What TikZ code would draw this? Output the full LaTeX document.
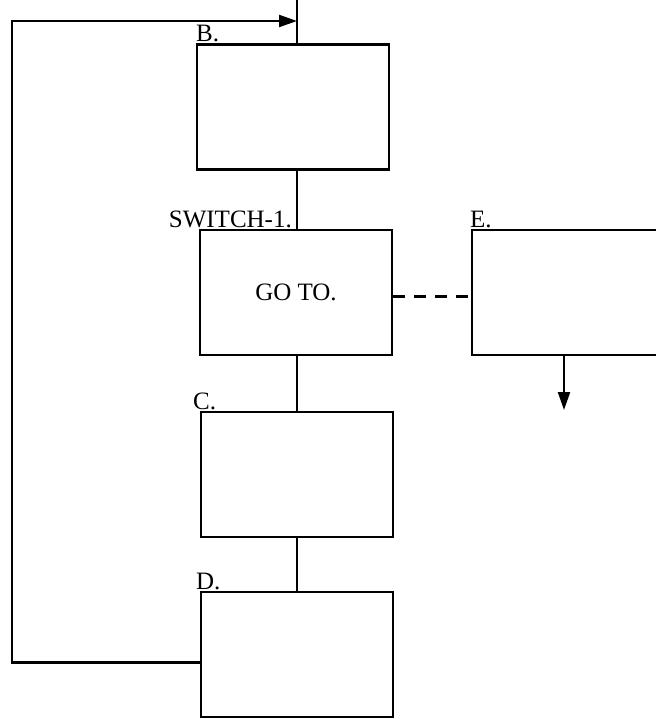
\documentclass[tikz,border=0pt]{standalone}
\usepackage{fontspec}
\setmainfont{Liberation Serif}
\usetikzlibrary{arrows.meta,positioning}

\begin{document}
\begin{tikzpicture}[x=1pt,y=1pt,
      blk/.style={draw,line width=2.2pt,minimum width=192pt,minimum height=125pt,
                  inner sep=0pt,font=\fontsize{25}{29}\selectfont},
      lbl/.style={inner sep=1pt,font=\fontsize{25}{29}\selectfont},
      arr/.style={-{Triangle[length=18pt,width=12pt]},line width=2.2pt},
      ln/.style={line width=2.2pt}]
    \useasboundingbox (0,0) rectangle (655,-719);
    % boxes
    \node[blk] (b)  at (293,-107)   {};
    \node[blk] (sw) at (296,-292.5) {GO TO.};
    \node[blk] (e)  at (568,-292.5) {};
    \node[blk] (c)  at (297,-474.5) {};
    \node[blk] (d)  at (297,-654.5) {};
    % labels
    \node[lbl,anchor=south west] (bl)  at ([xshift=-1pt]b.north west) {B.};
    \node[lbl,anchor=south east] (swl) at ([xshift=-3pt]sw.north) {SWITCH-1.};
    \node[lbl,anchor=south west] (el)  at ([xshift=-2pt]e.north west) {E.};
    \node[lbl,anchor=south west] (cl)  at ([xshift=-8pt]c.north west) {C.};
    \node[lbl,anchor=south west] (dl)  at ([xshift=-5pt]d.north west) {D.};
    % connectors
    \coordinate (top) at (297,0);
    \coordinate (corner) at (12,-21);
    \coordinate (entry) at (297,-21);
    \coordinate (eout) at (564,-410);
    \draw[ln] (top) -- (top |- b.north);
    \draw[ln] (top |- b.south) -- (top |- sw.north);
    \draw[ln] (top |- sw.south) -- (top |- c.north);
    \draw[ln] (top |- c.south) -- (top |- d.north);
    \draw[ln,dash pattern=on 12pt off 9pt] ([yshift=-4pt]sw.east) -- ([yshift=-4pt]e.west);
    \draw[arr] (eout |- e.south) -- (eout);
    \draw[arr] ([yshift=-8pt]d.west) -| (corner) -- (entry);
  \end{tikzpicture}
\end{document}
